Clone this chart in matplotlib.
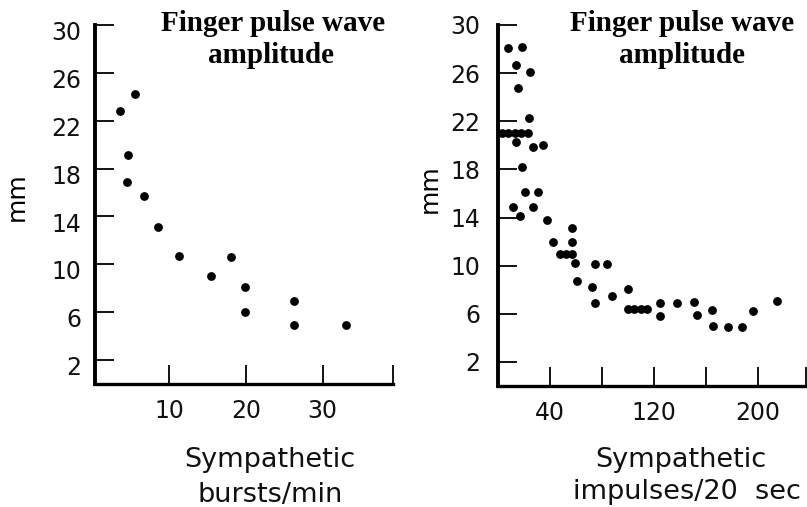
import numpy as np
import matplotlib.pyplot as plt
from matplotlib.transforms import ScaledTranslation

# finger pulse amplitude (mm) against sympathetic burst rate
bursts_x = [3.6, 5.5, 4.6, 4.5, 6.7, 8.5, 11.2, 15.4, 18.1, 19.9, 19.9, 26.3, 26.3, 33.1]
bursts_y = [22.8, 24.2, 19.1, 16.9, 15.7, 13.1, 10.7, 9.0, 10.6, 8.1, 6.0, 6.9, 4.9, 4.9]

# finger pulse amplitude (mm) against sympathetic impulses per 20 s
impulses_x = [7.9, 18.7, 13.8, 24.6, 15.6, 24.1,
              3, 8, 13, 18, 23, 13.8,
              26.7, 34.8, 18.2, 20.8, 31, 11.8, 27.2, 16.9, 37.9,
              42.1, 47.5, 52, 56.7, 56.7, 56.7, 59.2, 60.5,
              74.6, 83.6, 72.1, 74.6, 87.5, 100.2,
              100, 105, 110, 115,
              124.6, 124.6, 137.5, 150.8, 152.8, 164.4, 165.6,
              177.2, 187.5, 195.9, 214.4]
impulses_y = [28.1, 28.2, 26.7, 26.1, 24.8, 22.3,
              21.0, 21.0, 21.0, 21.0, 21.0, 20.3,
              19.9, 20.0, 18.2, 16.1, 16.1, 14.9, 14.9, 14.1, 13.8,
              12.0, 11.0, 11.0, 13.1, 12.0, 11.0, 10.2, 8.7,
              10.1, 10.1, 8.2, 6.9, 7.5, 8.1,
              6.4, 6.4, 6.4, 6.4,
              6.9, 5.8, 6.9, 7.0, 5.9, 6.3, 5.0,
              4.9, 4.9, 6.2, 7.1]

y_ticks = [2, 6, 10, 14, 18, 22, 26, 30]
left_xticks = [10, 20, 30, 39.2]
left_xlabels = ['10', '20', '30', '']
right_xticks = [40, 80, 120, 160, 200, 237]
right_xlabels = ['40', '', '120', '', '200', '']

W, H = 807, 507
fig = plt.figure(figsize=(W / 100, H / 100), dpi=100)


def box(x0, y0, x1, y1):
    # pixel box -> figure fraction
    return [x0 / W, 1 - y1 / H, (x1 - x0) / W, (y1 - y0) / H]


def style(ax, xticks, xlabels, xlim):
    for s in ['top', 'right']:
        ax.spines[s].set_visible(False)
    ax.spines['left'].set_linewidth(2.8)
    ax.spines['bottom'].set_linewidth(2.4)
    ax.set_xlim(*xlim)
    ax.set_ylim(0, 30)
    ax.set_yticks(y_ticks)
    ax.set_xticks(xticks)
    ax.set_xticklabels(xlabels)
    ax.tick_params(direction='in', length=14, width=1.3, labelsize=17,
                   color='black', labelcolor='#111111')
    ax.tick_params(axis='x', pad=11)
    ax.tick_params(axis='y', pad=10)
    shift = ScaledTranslation(0, -4 / 72, fig.dpi_scale_trans)
    for lab in ax.get_yticklabels():
        lab.set_transform(lab.get_transform() + shift)


ax1 = fig.add_axes(box(95, 25, 393, 384))
ax1.scatter(bursts_x, bursts_y, s=40, c='black', linewidths=0, clip_on=False)
style(ax1, left_xticks, left_xlabels, (0.3, 39.2))

ax2 = fig.add_axes(box(498, 25, 806, 386))
ax2.scatter(impulses_x, impulses_y, s=40, c='black', linewidths=0, clip_on=False)
style(ax2, right_xticks, right_xlabels, (0, 237))
ax2.tick_params(axis='y', pad=13)


def put(x, y, s, **kw):
    fig.text(x / W, 1 - y / H, s, **kw)


title_kw = dict(family='Liberation Serif', weight='bold', fontsize=21,
                ha='center', va='baseline')
put(273, 31, 'Finger pulse wave', **title_kw)
put(271, 63, 'amplitude', **title_kw)
put(682, 31, 'Finger pulse wave', **title_kw)
put(682, 63, 'amplitude', **title_kw)

lab_kw = dict(fontsize=19.5, ha='center', va='baseline', color='#111111')
put(270, 467, 'Sympathetic', **lab_kw)
put(270, 502, 'bursts/min', **lab_kw)
put(681, 467, 'Sympathetic', **lab_kw)
put(687, 499, 'impulses/20  sec', **lab_kw)

put(17, 197, 'mm', fontsize=18, rotation=90, ha='center', va='center')
put(430, 189, 'mm', fontsize=18, rotation=90, ha='center', va='center')

fig.savefig('out.png', dpi=100)
